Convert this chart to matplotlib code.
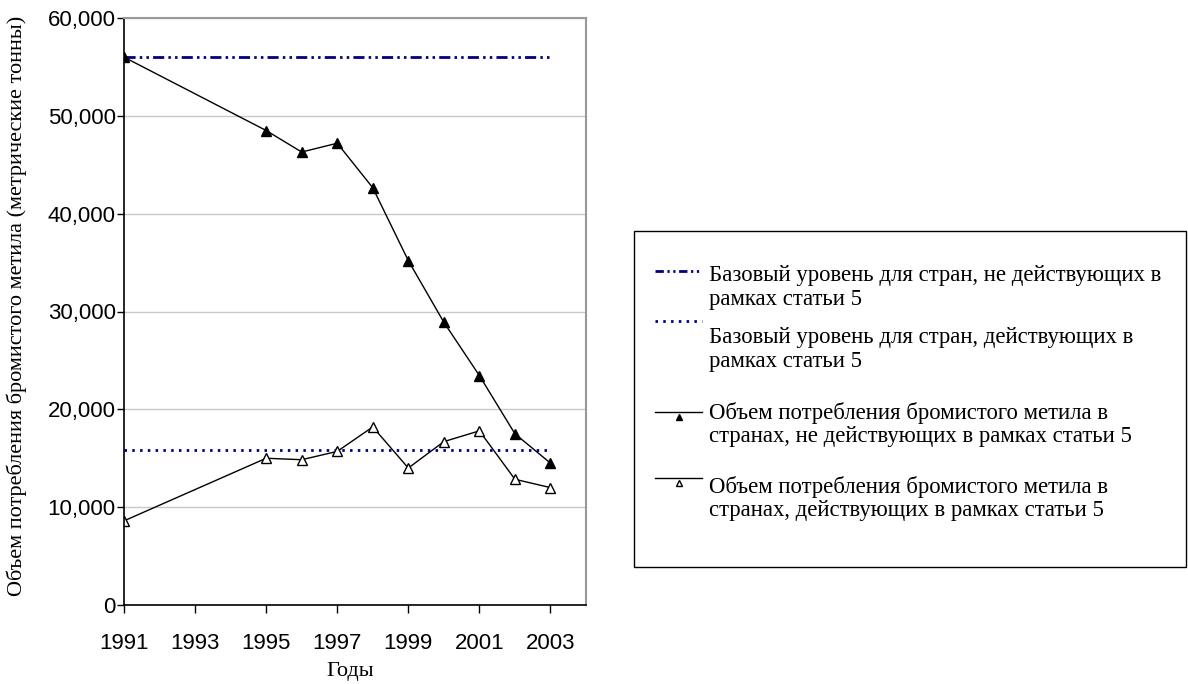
import matplotlib
matplotlib.use("Agg")
import matplotlib.pyplot as plt
from matplotlib.patches import Rectangle

# Data (metric tonnes of methyl bromide)
years = [1991, 1995, 1996, 1997, 1998, 1999, 2000, 2001, 2002, 2003]
non_a5 = [56000, 48500, 46300, 47200, 42650, 35200, 28900, 23450, 17500, 14500]
a5 = [8600, 15000, 14850, 15700, 18200, 14000, 16700, 17800, 12850, 12000]
baseline_years = [1991, 2003]
baseline_non_a5 = [56000, 56000]
baseline_a5 = [15800, 15800]

xticks = [1991, 1993, 1995, 1997, 1999, 2001, 2003]
yticks = [0, 10000, 20000, 30000, 40000, 50000, 60000]
ytick_labels = ["0", "10,000", "20,000", "30,000", "40,000", "50,000", "60,000"]

labels = [
    "Базовый уровень для стран, не действующих в\nрамках статьи 5",
    "Базовый уровень для стран, действующих в\nрамках статьи 5",
    "Объем потребления бромистого метила в\nстранах, не действующих в рамках статьи 5",
    "Объем потребления бромистого метила в\nстранах, действующих в рамках статьи 5",
]

serif = "Liberation Serif"
sans = "Liberation Sans"
navy = "#000080"
dashdotdot = (4.0, 1.5, 0.9, 1.5, 0.9, 1.5)
dotted = (0.9, 1.9)

W, H = 1188, 684
fig = plt.figure(figsize=(W / 100, H / 100), dpi=100)
ax = fig.add_axes([124 / W, 1 - 605 / H, (586 - 124) / W, (605 - 18) / H])

ax.plot(baseline_years, baseline_non_a5, color=navy, lw=2, dashes=dashdotdot)
ax.plot(baseline_years, baseline_a5, color=navy, lw=2, dashes=dotted)
ax.plot(years, non_a5, color="black", lw=1, marker="^", ms=7,
        mfc="black", mec="black")
ax.plot(years, a5, color="black", lw=1, marker="^", ms=7,
        mfc="white", mec="black", mew=1)

ax.set_xlim(1991, 2004)
ax.set_ylim(0, 60000)
ax.set_xticks(xticks)
ax.set_xticklabels([str(y) for y in xticks], fontfamily=sans, fontsize=16)
ax.set_yticks(yticks)
ax.set_yticklabels(ytick_labels, fontfamily=sans, fontsize=16)
ax.tick_params(axis="x", direction="out", length=6, width=1, pad=14)
ax.tick_params(axis="y", direction="out", length=5, width=1, pad=1)

ax.grid(axis="y", color="#c8c8c8", lw=1)
ax.set_axisbelow(True)
for side in ["top", "right"]:
    ax.spines[side].set_color("#999999")
    ax.spines[side].set_linewidth(1.5)
for side in ["left", "bottom"]:
    ax.spines[side].set_color("black")
    ax.spines[side].set_linewidth(1.2)

ax.set_xlabel("Годы", fontfamily=serif, fontsize=16)
ax.xaxis.set_label_coords(0.49, -0.097)
fig.text(17 / W, 1 - 306 / H,
         "Объем потребления бромистого метила (метрические тонны)",
         rotation=90, ha="center", va="center", fontfamily=serif, fontsize=16)

# legend drawn in pixel coordinates of the figure
lax = fig.add_axes([0, 0, 1, 1], zorder=-1)
lax.set_xlim(0, W)
lax.set_ylim(H, 0)
lax.axis("off")
lax.add_patch(Rectangle((634, 231), 552, 336, fill=False, edgecolor="black", lw=1))

text_y = [276, 338, 413, 487]
handle_y = [271, 321, 412, 478]
styles = [
    dict(color=navy, lw=2, dashes=(3.0, 1.3, 0.8, 1.3, 0.8, 1.3)),
    dict(color=navy, lw=2, dashes=dotted),
    dict(color="black", lw=1),
    dict(color="black", lw=1),
]
marker_fc = [None, None, "black", "white"]
for lab, ty, hy, st, mfc in zip(labels, text_y, handle_y, styles, marker_fc):
    lax.plot([655, 702], [hy, hy], **st)
    if mfc is not None:
        lax.plot([678.5], [hy + 5], ls="none", marker="^", ms=5,
                 mfc=mfc, mec="black", mew=1)
    for i, line in enumerate(lab.split("\n")):
        lax.text(709, ty + 23.5 * i, line, ha="left", va="center",
                 fontfamily=serif, fontsize=16.4)

fig.savefig("out.png", dpi=100)
